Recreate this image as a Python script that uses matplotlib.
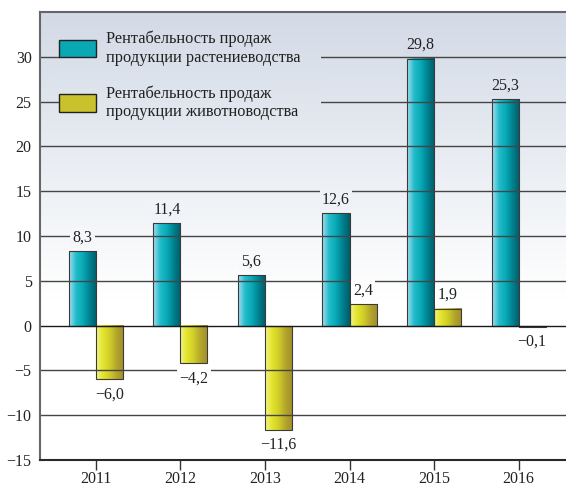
import numpy as np
import matplotlib.pyplot as plt
from matplotlib.colors import LinearSegmentedColormap, to_rgb
from matplotlib.patches import Patch

years = ['2011', '2012', '2013', '2014', '2015', '2016']
plant = [8.3, 11.4, 5.6, 12.6, 29.8, 25.3]
animal = [-6.0, -4.2, -11.6, 2.4, 1.9, -0.1]
legend_labels = ['Рентабельность продаж\nпродукции растениеводства',
                 'Рентабельность продаж\nпродукции животноводства']

plt.rcParams['font.family'] = ['Liberation Serif', 'DejaVu Serif']

teal_cm = LinearSegmentedColormap.from_list(
    'teal', ['#a6dcef', '#22bccb', '#08a9b6', '#00808e', '#005c69'])
yell_cm = LinearSegmentedColormap.from_list(
    'yell', ['#f2f48a', '#e3e52a', '#cfcc2a', '#b3a42c', '#a08f2c'])

top_col = np.array(to_rgb('#d2dae6'))
ylo, yhi = -15, 35
fade_to = 3.0


def bg_color(v):
    t = np.clip((v - fade_to) / (yhi - fade_to), 0, 1)
    return tuple(1 - t * (1 - top_col))


def bg_image(y0, y1):
    vals = np.linspace(y1, y0, 300)
    return np.array([bg_color(v) for v in vals])[:, None, :]


def fmt(v):
    return ('%.1f' % v).replace('.', ',').replace('-', '\u2212')


fig = plt.figure(figsize=(5.66, 4.87), dpi=100)
ax = fig.add_axes([0.0707, 0.0554, 0.9293, 0.9200])

x = np.arange(len(years))
w = 0.32
xl = (-0.66, 5.56)
ax.set_xlim(*xl)
ax.set_ylim(ylo, yhi)

# background gradient
ax.imshow(bg_image(ylo, yhi), extent=[xl[0], xl[1], ylo, yhi], aspect='auto', zorder=0)

b1 = ax.bar(x - w / 2, plant, w, color='#0aa8b5', edgecolor='#3a3a3a', lw=0.8, zorder=2)
b2 = ax.bar(x + w / 2, animal, w, color='#d6d42a', edgecolor='#3a3a3a', lw=0.8, zorder=2)

grad = np.linspace(0, 1, 64)[None, :]
for bars, cm in ((b1, teal_cm), (b2, yell_cm)):
    for r in bars:
        x0, y0, ww, hh = r.get_x(), r.get_y(), r.get_width(), r.get_height()
        ax.imshow(grad, cmap=cm, extent=[x0, x0 + ww, y0, y0 + hh],
                  aspect='auto', zorder=2.5)
        r.set_facecolor('none')
        r.set_zorder(3)

ax.set_yticks(range(-15, 31, 5))
ax.set_yticklabels([str(t).replace('-', '\u2212') for t in range(-15, 31, 5)])
ax.set_xticks(x)
ax.set_xticklabels(years)
for t in range(-10, 31, 5):
    ax.axhline(t, color='#1a1a1a' if t == 0 else '#454545', lw=1.0, zorder=3.5)

ax.tick_params(axis='y', length=0, labelsize=11.5, labelcolor='#222222', pad=6)
ax.tick_params(axis='x', direction='out', length=7, width=1.0, color='#333333',
               labelsize=11.5, labelcolor='#222222', pad=1)

ax.spines['right'].set_visible(False)
for side, col in (('top', '#666666'), ('left', '#666666'), ('bottom', '#2a2a2a')):
    ax.spines[side].set_color(col)
    ax.spines[side].set_linewidth(1.5)
    ax.spines[side].set_zorder(8)

for bars, data in ((b1, plant), (b2, animal)):
    for r, v in zip(bars, data):
        cx = r.get_x() + r.get_width() / 2
        if v >= 0:
            off, va = 4, 'bottom'
        else:
            off, va = -5, 'top'
        ax.annotate(fmt(v), (cx, v), xytext=(0, off), textcoords='offset points',
                    ha='center', va=va, fontsize=11.5, color='#222222', zorder=5,
                    bbox=dict(boxstyle='square,pad=0.15',
                              fc=bg_color(v + (2.2 if v >= 0 else -2.2)), ec='none'))

handles = [Patch(facecolor='#0aa8b5', edgecolor='#222222', lw=1.0),
           Patch(facecolor='#c9c22c', edgecolor='#222222', lw=1.0)]
leg = ax.legend(handles, legend_labels, loc='upper left', bbox_to_anchor=(0.004, 0.995),
                fontsize=11.8, frameon=False, handlelength=2.3, handleheight=1.25,
                handletextpad=0.6, labelspacing=1.2, borderpad=0.5)
leg.set_zorder(6)
for txt in leg.get_texts():
    txt.set_color('#222222')

# mask gridlines behind the legend with the same background gradient
fig.canvas.draw()
bb = leg.get_window_extent().transformed(ax.transData.inverted())
ax.imshow(bg_image(bb.y0, yhi), extent=[bb.x0 + 0.12, bb.x1 + 0.15, bb.y0, yhi],
          aspect='auto', zorder=4)
ax.set_xlim(*xl)
ax.set_ylim(ylo, yhi)

fig.savefig('out.png', dpi=100)
